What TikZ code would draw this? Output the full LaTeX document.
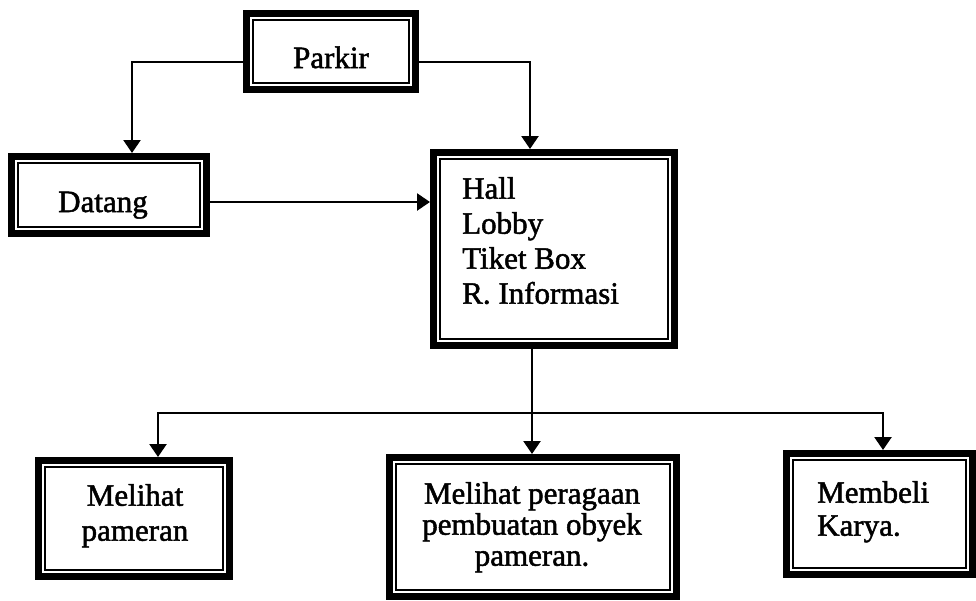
\documentclass[tikz,border=0pt]{standalone}
\usepackage{fontspec}
\setmainfont{Liberation Serif}[FakeBold=1.6]
\usetikzlibrary{arrows.meta,calc}
\begin{document}
\begin{tikzpicture}[x=1pt,y=-1pt,
  box/.style={draw, line width=7pt, inner sep=0pt},
  innerline/.style={draw, line width=1.6pt},
  lbl/.style={inner sep=0pt, font=\fontsize{31}{35}\selectfont},
  link/.style={draw, line width=2.5pt},
  conn/.style={link, -{Triangle[length=13pt,width=17pt]}}]
\fill[white] (0,0) rectangle (976,600);
\useasboundingbox (0,0) rectangle (976,600);
% boxes
\node[box, minimum width=169pt, minimum height=76pt] (p) at (331,51.5) {};
\node[box, minimum width=195pt, minimum height=77pt] (d) at (109,195) {};
\node[box, minimum width=241pt, minimum height=193pt] (h) at (554,249) {};
\node[box, minimum width=191pt, minimum height=116pt] (m1) at (134,518.5) {};
\node[box, minimum width=287pt, minimum height=139pt] (m2) at (533,527) {};
\node[box, minimum width=186pt, minimum height=121pt] (m3) at (879.5,514) {};
\foreach \bx in {p,d,h,m1,m2,m3}{
  \draw[innerline] ($(\bx.north west)+(10,10)$) rectangle ($(\bx.south east)+(-10,-10)$);
}
% texts
\node[lbl, anchor=base] (pt) at (331,68) {Parkir};
\node[lbl, anchor=base] (dt) at (103,212) {Datang};
\node[lbl, align=left, anchor=north west] (ht) at (462,177) {Hall\\Lobby\\Tiket Box\\R. Informasi};
\node[lbl, align=center, anchor=north, font=\fontsize{31}{35}\selectfont] (m1t) at (135,484) {Melihat\\pameran};
\node[lbl, align=center, anchor=north, font=\fontsize{31}{31}\selectfont] (m2t) at (532,482) {Melihat peragaan\\pembuatan obyek\\pameran.};
\node[lbl, align=left, anchor=north west, font=\fontsize{31}{33}\selectfont] (m3t) at (817,481) {Membeli\\Karya.};
% helper coordinates
\coordinate (py) at (0,62);
\coordinate (dy) at (0,202);
\coordinate (hy) at (0,413);
\coordinate (c1) at (132,0);
\coordinate (c2) at (530,0);
\coordinate (c3) at (532,0);
\coordinate (c4) at (158,0);
\coordinate (c5) at (883,0);
% connectors
\draw[conn] (p.west |- py) -| (c1 |- d.north);
\draw[conn] (p.east |- py) -| (c2 |- h.north);
\draw[conn] (d.east |- dy) -- (h.west |- dy);
\draw[link] (c3 |- h.south) -- (c3 |- hy);
\draw[conn] (c3 |- hy) -- (c3 |- m2.north);
\draw[conn] (c3 |- hy) -| (c4 |- m1.north);
\draw[conn] (c3 |- hy) -| (c5 |- m3.north);
\end{tikzpicture}
\end{document}
